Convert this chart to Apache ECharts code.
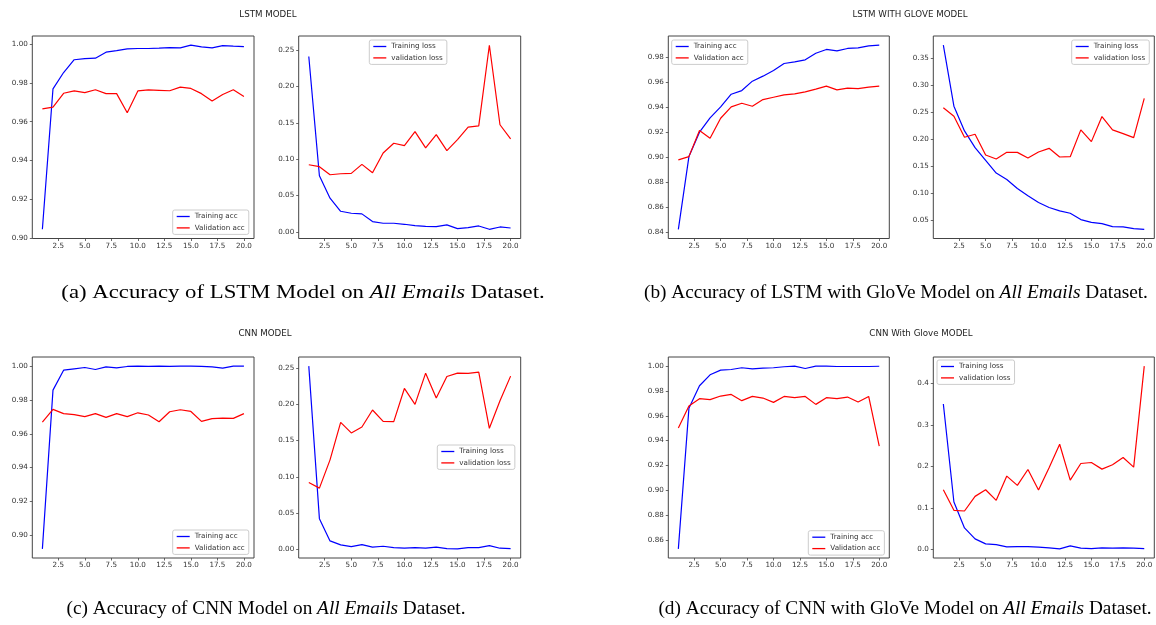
<!DOCTYPE html>
<html><head><meta charset="utf-8">
<script src="https://cdn.jsdelivr.net/npm/echarts@6/dist/echarts.min.js"></script>
<style>html,body{margin:0;padding:0;background:#fff}#c{width:1156px;height:625px}</style>
</head><body><div id="c"></div>
<script>
// ---- data ----
const epochs = [1,2,3,4,5,6,7,8,9,10,11,12,13,14,15,16,17,18,19,20];
const xTicks = [2.5,5,7.5,10,12.5,15,17.5,20];

const lstmTrainAcc = [0.9045,0.977,0.9854,0.992,0.9926,0.9928,0.9959,0.9967,0.9976,0.9978,0.9978,0.998,0.9983,0.9981,0.9995,0.9986,0.9981,0.9993,0.999,0.9988];
const lstmValAcc = [0.9666,0.9675,0.9747,0.9759,0.975,0.9765,0.9745,0.9745,0.9646,0.9759,0.9764,0.9762,0.976,0.9779,0.9772,0.9745,0.9707,0.9741,0.9765,0.973];
const lstmTrainLoss = [0.2413,0.0773,0.0465,0.0285,0.0258,0.0249,0.0143,0.012,0.012,0.0106,0.0087,0.0078,0.0074,0.0097,0.0046,0.006,0.0083,0.0037,0.0069,0.0055];
const lstmValLoss = [0.0925,0.0898,0.0787,0.0801,0.0806,0.093,0.0815,0.1087,0.122,0.1188,0.1381,0.1156,0.134,0.1119,0.1271,0.1441,0.146,0.2569,0.1475,0.128];

const lstmGloveTrainAcc = [0.8424,0.9004,0.9199,0.9313,0.9401,0.9502,0.9531,0.9606,0.9646,0.9691,0.9747,0.976,0.9776,0.9829,0.9859,0.9848,0.9867,0.9872,0.9888,0.9893];
const lstmGloveValAcc = [0.8978,0.9004,0.9212,0.9151,0.931,0.9401,0.943,0.9406,0.9459,0.9478,0.9497,0.9505,0.9521,0.9542,0.9566,0.9537,0.955,0.9547,0.9558,0.9566];
const lstmGloveTrainLoss = [0.3735,0.2611,0.2154,0.1846,0.1611,0.1377,0.1259,0.1093,0.0957,0.0833,0.0741,0.0679,0.0636,0.0519,0.0469,0.0444,0.0389,0.0383,0.0352,0.034];
const lstmGloveValLoss = [0.258,0.2426,0.2037,0.2093,0.171,0.1636,0.1759,0.1759,0.1654,0.1765,0.1833,0.1673,0.1679,0.2173,0.1957,0.242,0.2173,0.2105,0.2031,0.2753];

const cnnTrainAcc = [0.8919,0.9858,0.9976,0.9984,0.9992,0.998,0.9996,0.999,0.9998,1.0,0.9998,1.0,0.9998,1.0,1.0,0.9998,0.9996,0.9988,1.0,1.0];
const cnnValAcc = [0.9669,0.9744,0.9719,0.9713,0.9701,0.9719,0.9697,0.9719,0.9701,0.9724,0.9711,0.9671,0.973,0.9742,0.9732,0.9673,0.9689,0.9693,0.9691,0.9719];
const cnnTrainLoss = [0.2528,0.0422,0.0115,0.006,0.0037,0.0064,0.0028,0.0041,0.0023,0.0014,0.0023,0.0014,0.0028,0.0009,0.0005,0.0023,0.0023,0.005,0.0014,0.0009];
const cnnValLoss = [0.0922,0.0844,0.1234,0.1752,0.1606,0.1688,0.1922,0.1766,0.1761,0.222,0.2,0.2431,0.2087,0.2385,0.2431,0.2427,0.2445,0.167,0.205,0.239];

const cnnGloveTrainAcc = [0.8528,0.966,0.9842,0.993,0.9968,0.9973,0.9987,0.9978,0.9984,0.9987,0.9995,1.0,0.9981,1.0,1.0,0.9997,0.9997,0.9997,0.9997,0.9999];
const cnnGloveValAcc = [0.9502,0.9679,0.9738,0.973,0.9759,0.9772,0.9722,0.9756,0.9743,0.9708,0.9756,0.9746,0.9756,0.9692,0.9746,0.9738,0.9751,0.9711,0.9756,0.9355];
const cnnGloveTrainLoss = [0.3504,0.1144,0.052,0.0256,0.0136,0.012,0.0064,0.0072,0.0072,0.0056,0.004,0.0016,0.0088,0.0032,0.0024,0.004,0.0032,0.004,0.0032,0.0024];
const cnnGloveValLoss = [0.144,0.0944,0.0928,0.128,0.144,0.1184,0.1768,0.1544,0.1928,0.1432,0.1968,0.2536,0.1672,0.2072,0.2096,0.1936,0.204,0.2216,0.1984,0.4416];

const accTicksA = [0.90,0.92,0.94,0.96,0.98,1.00];
const lossTicksA = [0.00,0.05,0.10,0.15,0.20,0.25];
const accTicksB = [0.84,0.86,0.88,0.90,0.92,0.94,0.96,0.98];
const lossTicksB = [0.05,0.10,0.15,0.20,0.25,0.30,0.35];
const accTicksC = [0.90,0.92,0.94,0.96,0.98,1.00];
const lossTicksC = [0.00,0.05,0.10,0.15,0.20,0.25];
const accTicksD = [0.86,0.88,0.90,0.92,0.94,0.96,0.98,1.00];
const lossTicksD = [0.0,0.1,0.2,0.3,0.4];

const figTitles = ['LSTM MODEL','LSTM WITH GLOVE MODEL','CNN MODEL','CNN With Glove MODEL'];
const captions = [
  ['(a) Accuracy of LSTM Model on ','All Emails',' Dataset.'],
  ['(b) Accuracy of LSTM with GloVe Model on ','All Emails',' Dataset.'],
  ['(c) Accuracy of CNN Model on ','All Emails',' Dataset.'],
  ['(d) Accuracy of CNN with GloVe Model on ','All Emails',' Dataset.']
];

// ---- layout ----
const BLUE = '#0000ff', RED = '#ff0000';
const accNames = ['Training acc','Validation acc'];
const lossNames = ['Training loss','validation loss'];
const panels = [
  {box:[32.3,36,221.7,202.5], tr:lstmTrainAcc, va:lstmValAcc, names:accNames, ticks:accTicksA, dec:2, leg:[172.7,210]},
  {box:[298.7,36,222,202.5], tr:lstmTrainLoss, va:lstmValLoss, names:lossNames, ticks:lossTicksA, dec:2, leg:[369.3,40]},
  {box:[668.3,36,221,202.5], tr:lstmGloveTrainAcc, va:lstmGloveValAcc, names:accNames, ticks:accTicksB, dec:2, leg:[671.7,40]},
  {box:[933.3,36,221,202.5], tr:lstmGloveTrainLoss, va:lstmGloveValLoss, names:lossNames, ticks:lossTicksB, dec:2, leg:[1071.7,40]},
  {box:[32.3,357,221.7,201], tr:cnnTrainAcc, va:cnnValAcc, names:accNames, ticks:accTicksC, dec:2, leg:[172.7,530]},
  {box:[298.7,357,222,201], tr:cnnTrainLoss, va:cnnValLoss, names:lossNames, ticks:lossTicksC, dec:2, leg:[437.3,445]},
  {box:[668.3,357,221,201], tr:cnnGloveTrainAcc, va:cnnGloveValAcc, names:accNames, ticks:accTicksD, dec:2, leg:[808.3,530.7]},
  {box:[933.3,357,221,201], tr:cnnGloveTrainLoss, va:cnnGloveValLoss, names:lossNames, ticks:lossTicksD, dec:1, leg:[937,360]}
];

function limits(a, b) {
  const all = a.concat(b);
  const mn = Math.min.apply(null, all), mx = Math.max.apply(null, all);
  const m = (mx - mn) * 0.05;
  return [mn - m, mx + m];
}

const TICK_FONT = {fontFamily:'DejaVu Sans', fontSize:7.2, color:'#333'};
const grid = [], xAxis = [], yAxis = [], series = [], legend = [];
panels.forEach((p, i) => {
  grid.push({left:p.box[0], top:p.box[1], width:p.box[2], height:p.box[3], show:true,
    borderColor:'#444', borderWidth:1, backgroundColor:'#fff', containLabel:false});
  xAxis.push({type:'value', gridIndex:i, min:0.05, max:20.95, position:'bottom',
    axisLine:{show:false, onZero:false}, splitLine:{show:false},
    axisTick:{show:true, length:2.5, customValues:xTicks, lineStyle:{color:'#444', width:0.8}},
    axisLabel:Object.assign({margin:4, customValues:xTicks, formatter:v => v.toFixed(1)}, TICK_FONT)});
  const lim = limits(p.tr, p.va);
  yAxis.push({type:'value', gridIndex:i, min:lim[0], max:lim[1], position:'left',
    axisLine:{show:false, onZero:false}, splitLine:{show:false},
    axisTick:{show:true, length:2.5, customValues:p.ticks, lineStyle:{color:'#444', width:0.8}},
    axisLabel:Object.assign({margin:4.5, customValues:p.ticks, formatter:(d => v => v.toFixed(d))(p.dec)}, TICK_FONT)});
  [[p.tr, BLUE, p.names[0]], [p.va, RED, p.names[1]]].forEach(s => {
    series.push({type:'line', name:s[2], xAxisIndex:i, yAxisIndex:i,
      data: epochs.map((e, k) => [e, s[0][k]]),
      showSymbol:false, symbol:'none', silent:true, animation:false,
      lineStyle:{color:s[1], width:1.2}, itemStyle:{color:s[1]}});
  });
  legend.push({left:p.leg[0], top:p.leg[1], orient:'vertical', data:p.names, selectedMode:false,
    icon:'rect', itemWidth:13, itemHeight:1.3, itemGap:2.4, padding:[2,4,2,4],
    textStyle:{fontFamily:'DejaVu Sans', fontSize:7.2, color:'#333', lineHeight:9},
    borderColor:'#cccccc', borderWidth:1, borderRadius:2, backgroundColor:'#ffffff'});
});

const graphic = [];
const titlePos = [[268,15],[910,15],[265,334],[921,334]];
figTitles.forEach((t, i) => {
  graphic.push({type:'text', x:titlePos[i][0], y:titlePos[i][1],
    style:{text:t, fontFamily:'DejaVu Sans', fontSize:8.7, fill:'#222', textAlign:'center', verticalAlign:'middle'}});
});
const capPos = [[303,293,1.18],[896,293,1],[266,609,1],[905,609,1]];
captions.forEach((c, i) => {
  graphic.push({type:'text', x:capPos[i][0], y:capPos[i][1], scaleX:capPos[i][2],
    style:{text:'{n|' + c[0] + '}{i|' + c[1] + '}{n|' + c[2] + '}',
      fontFamily:'Liberation Serif', fontSize:19.3, fill:'#000', textAlign:'center', verticalAlign:'middle',
      rich:{n:{fontFamily:'Liberation Serif', fontSize:19.3, fill:'#000'},
            i:{fontFamily:'Liberation Serif', fontSize:19.3, fontStyle:'italic', fill:'#000'}}}});
});

const chart = echarts.init(document.getElementById('c'), null, {renderer:'canvas'});
chart.setOption({animation:false, backgroundColor:'#fff', grid, xAxis, yAxis, series, legend, graphic});
</script></body></html>
